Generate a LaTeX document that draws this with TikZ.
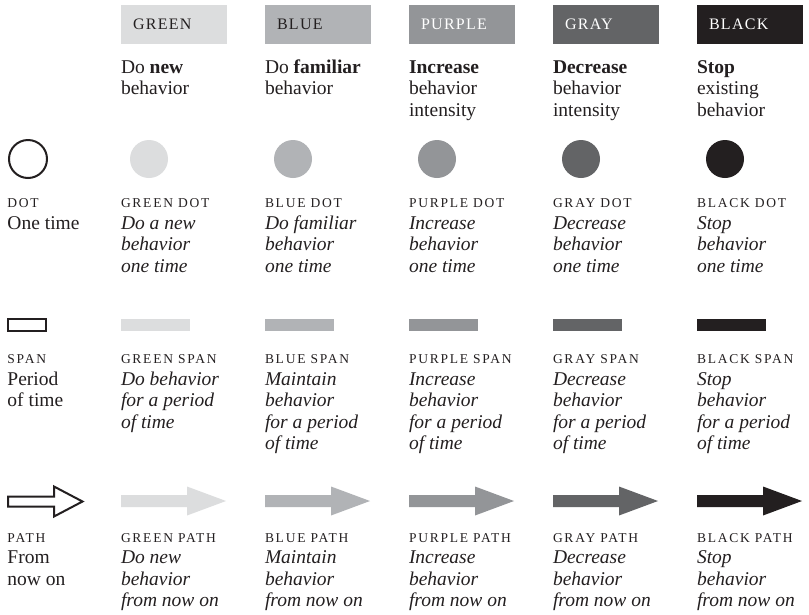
\documentclass[tikz,border=0pt]{standalone}
\usepackage{fontspec}
\setmainfont{Liberation Serif}
\newfontfamily\hdfont[LetterSpace=8]{Liberation Serif}
\newfontfamily\lbfont[LetterSpace=13]{Liberation Serif}
\definecolor{ink}{HTML}{231F20}
\definecolor{cgreen}{HTML}{DCDDDE}
\definecolor{cblue}{HTML}{B1B3B6}
\definecolor{cpurple}{HTML}{939598}
\definecolor{cgray}{HTML}{636466}
\definecolor{cblack}{HTML}{231F20}
\newcommand\mytextblock[5]{%
  \foreach \ln [count=\k] in {#5}{%
    \node[#4] (#1-\k) at (#2,{#3+21.5*(\k-1)}) {\ln};
  }}
\begin{document}
\begin{tikzpicture}[x=1pt,y=-1pt,
  txt/.style={anchor=base west,inner sep=0pt,outer sep=0pt,text=ink},
  rmtext/.style={txt,font=\fontsize{19.5}{21.5}\selectfont},
  ittext/.style={txt,font=\fontsize{19.5}{21.5}\selectfont\itshape},
  labtext/.style={txt,font=\lbfont\fontsize{13.5}{13.5}\selectfont},
  hdtext/.style={txt,font=\hdfont\fontsize{16}{16}\selectfont},
  outline/.style={draw=ink,line width=2pt,line join=miter}]
\fill[white] (0,0) rectangle (809,614);
\useasboundingbox (0,0) rectangle (809,614);

% header boxes, dots, spans, arrows
\foreach \x/\c/\tc/\nm in {121/cgreen/ink/GREEN,265/cblue/ink/BLUE,409/cpurple/white/PURPLE,553/cgray/white/GRAY,697/cblack/white/BLACK}{
  \fill[\c] (\x,5) rectangle ++(106,38.5);
  \node[hdtext,text=\tc] (hd-\nm) at (\x+12,29) {\nm};
  \fill[\c] (\x+28,159) circle[radius=19pt];
  \fill[\c] (\x,319) rectangle ++(69,12);
  \fill[\c] (\x,495) -- ++(66,0) -- ++(0,-8.5) -- (\x+105,501) -- (\x+66,515.5) -- ++(0,-8.5) -- (\x,507) -- cycle;
}

% first column
\draw[outline] (28,159) circle[radius=19pt];
\draw[outline] (8,319) rectangle (46,331);
\draw[outline] (8,496.5) -- (54,496.5) -- (54,486.5) -- (82.5,501.5) -- (54,516.5) -- (54,506.5) -- (8,506.5) -- cycle;

\node[labtext] (l-dot) at (7.5,207.5) {DOT};
\mytextblock{t-dot}{7.5}{229}{rmtext}{One time}
\node[labtext] (l-span) at (7.5,363.5) {SPAN};
\mytextblock{t-span}{7.5}{385}{rmtext}{Period,of time}
\node[labtext] (l-path) at (7.5,542) {PATH};
\mytextblock{t-path}{7.5}{563.5}{rmtext}{From,now on}

% header descriptions
\mytextblock{d-green}{121}{73}{rmtext}{Do \textbf{new},behavior}
\mytextblock{d-blue}{265}{73}{rmtext}{Do \textbf{familiar},behavior}
\mytextblock{d-purple}{409}{73}{rmtext}{\textbf{Increase},behavior,intensity}
\mytextblock{d-gray}{553}{73}{rmtext}{\textbf{Decrease},behavior,intensity}
\mytextblock{d-black}{697}{73}{rmtext}{\textbf{Stop},existing,behavior}

% dot row
\node[labtext] (ld-green) at (121,207.5) {GREEN DOT};
\node[labtext] (ld-blue) at (265,207.5) {BLUE DOT};
\node[labtext] (ld-purple) at (409,207.5) {PURPLE DOT};
\node[labtext] (ld-gray) at (553,207.5) {GRAY DOT};
\node[labtext] (ld-black) at (697,207.5) {BLACK DOT};
\mytextblock{td-green}{121}{229}{ittext}{Do a new,behavior,one time}
\mytextblock{td-blue}{265}{229}{ittext}{Do familiar,behavior,one time}
\mytextblock{td-purple}{409}{229}{ittext}{Increase,behavior,one time}
\mytextblock{td-gray}{553}{229}{ittext}{Decrease,behavior,one time}
\mytextblock{td-black}{697}{229}{ittext}{Stop,behavior,one time}

% span row
\node[labtext] (ls-green) at (121,363.5) {GREEN SPAN};
\node[labtext] (ls-blue) at (265,363.5) {BLUE SPAN};
\node[labtext] (ls-purple) at (409,363.5) {PURPLE SPAN};
\node[labtext] (ls-gray) at (553,363.5) {GRAY SPAN};
\node[labtext] (ls-black) at (697,363.5) {BLACK SPAN};
\mytextblock{ts-green}{121}{385}{ittext}{Do behavior,for a period,of time}
\mytextblock{ts-blue}{265}{385}{ittext}{Maintain,behavior,for a period,of time}
\mytextblock{ts-purple}{409}{385}{ittext}{Increase,behavior,for a period,of time}
\mytextblock{ts-gray}{553}{385}{ittext}{Decrease,behavior,for a period,of time}
\mytextblock{ts-black}{697}{385}{ittext}{Stop,behavior,for a period,of time}

% path row
\node[labtext] (lp-green) at (121,542) {GREEN PATH};
\node[labtext] (lp-blue) at (265,542) {BLUE PATH};
\node[labtext] (lp-purple) at (409,542) {PURPLE PATH};
\node[labtext] (lp-gray) at (553,542) {GRAY PATH};
\node[labtext] (lp-black) at (697,542) {BLACK PATH};
\mytextblock{tp-green}{121}{563.5}{ittext}{Do new,behavior,from now on}
\mytextblock{tp-blue}{265}{563.5}{ittext}{Maintain,behavior,from now on}
\mytextblock{tp-purple}{409}{563.5}{ittext}{Increase,behavior,from now on}
\mytextblock{tp-gray}{553}{563.5}{ittext}{Decrease,behavior,from now on}
\mytextblock{tp-black}{697}{563.5}{ittext}{Stop,behavior,from now on}
\end{tikzpicture}
\end{document}
